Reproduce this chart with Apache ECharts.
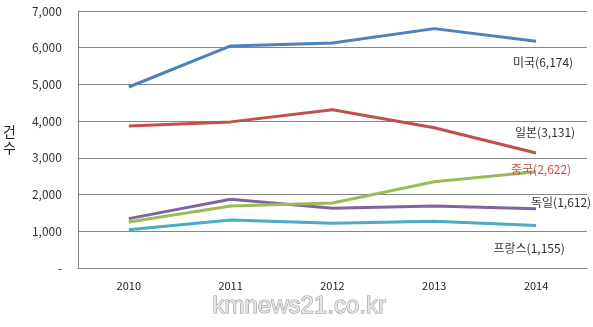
<!DOCTYPE html>
<html><head><meta charset="utf-8">
<script src="https://cdn.jsdelivr.net/npm/echarts@6/dist/echarts.min.js"></script>
<style>html,body{margin:0;padding:0;background:#fff}#c{width:593px;height:327px}</style>
</head><body><div id="c"></div>
<script>
var years = ['2010','2011','2012','2013','2014'];
var usa = [4930, 6050, 6130, 6520, 6174];
var japan = [3865, 3980, 4310, 3820, 3131];
var china = [1255, 1690, 1770, 2350, 2622];
var germany = [1345, 1875, 1625, 1690, 1612];
var france = [1045, 1310, 1220, 1275, 1155];
var names = ['미국','일본','중국','독일','프랑스'];
var yTicks = ['-','1,000','2,000','3,000','4,000','5,000','6,000','7,000'];

var font = '"Noto Sans CJK KR", "DejaVu Sans", sans-serif';
function fmt(v){return v.toLocaleString('en-US');}
var defs = [
  {d: usa, c:'#4F81BD', off:[7,21], lc:'#333'},
  {d: japan, c:'#C0504D', off:[9,-21], lc:'#333'},
  {d: china, c:'#9BBB59', off:[5,-2], lc:'#C0504D'},
  {d: germany, c:'#8064A2', off:[25,-6], lc:'#333'},
  {d: france, c:'#4BACC6', off:[-7,23], lc:'#333'}
];
var series = defs.map(function(s,i){
  return {
    type:'line', name:names[i], data:s.d, showSymbol:false, symbol:'none',
    lineStyle:{color:s.c, width:3}, itemStyle:{color:s.c}, z: 10-i,
    endLabel:{show:true, formatter:function(p){return names[i]+'('+fmt(p.value)+')';},
      color:s.lc, fontSize:12, fontFamily:font, distance:0, align:'center', verticalAlign:'middle', offset:s.off}
  };
});
var chart = echarts.init(document.getElementById('c'), null, {renderer:'canvas'});
chart.setOption({
  animation:false,
  backgroundColor:'#fff',
  grid:{left:74, right:6, top:11, bottom:59},
  xAxis:{type:'category', data:years, boundaryGap:true,
    axisLine:{lineStyle:{color:'#868686', width:1}}, axisTick:{show:false},
    axisLabel:{color:'#222', fontSize:11, margin:12, fontFamily:font}},
  yAxis:{type:'value', min:0, max:7000, interval:1000,
    name:'건\n수', nameLocation:'middle', nameRotate:0, nameGap:62,
    nameTextStyle:{color:'#222', fontSize:14, fontFamily:font, lineHeight:16},
    axisLine:{show:true, lineStyle:{color:'#868686'}}, axisTick:{show:false},
    splitLine:{lineStyle:{color:'#868686', width:1}},
    axisLabel:{color:'#333', fontSize:12, margin:16, fontFamily:font,
      formatter:function(v){return yTicks[Math.round(v/1000)];}}},
  graphic:[{type:'text', left:212, top:294,
    style:{text:'kmnews21.co.kr', font:'24px "Liberation Sans", Arial, sans-serif', fill:'#e6e6e6', stroke:'#8c8c8c', lineWidth:1}}],
  series:series
});
</script></body></html>
